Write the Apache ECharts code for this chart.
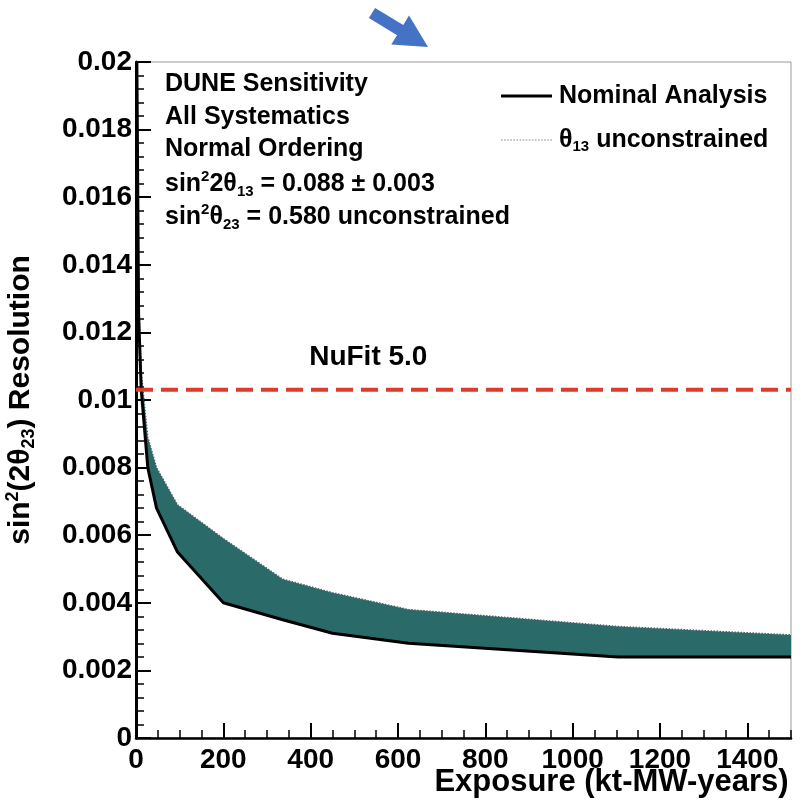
<!DOCTYPE html>
<html><head><meta charset="utf-8">
<script src="https://cdn.jsdelivr.net/npm/echarts@6/dist/echarts.min.js"></script>
<style>html,body{margin:0;padding:0;background:#fff}#c{width:805px;height:808px}</style>
</head><body><div id="c"></div>
<script>
// ---- data ----
const exposure      = [2, 6, 12, 27, 47, 95, 200, 336, 450, 624, 1104, 1500];
const nominal       = [0.0200, 0.0125, 0.0103, 0.0080, 0.0068, 0.0055, 0.0040, 0.0035, 0.0031, 0.0028, 0.0024, 0.0024];
const unconstrained = [0.0200, 0.0132, 0.0108, 0.0089, 0.0080, 0.0069, 0.0059, 0.0047, 0.0043, 0.0038, 0.0033, 0.00305];
const nufitValue = 0.0103;
const nufitLabelAt = [532, 0.01127];
const xTickLabels = ['0', '200', '400', '600', '800', '1000', '1200', '1400'];
const yTickLabels = ['0', '0.002', '0.004', '0.006', '0.008', '0.01', '0.012', '0.014', '0.016', '0.018', '0.02'];
const infoLines = [
  'DUNE Sensitivity',
  'All Systematics',
  'Normal Ordering',
  '{t|sin}{sup|2}{t|2θ}{sub|13}{t| = 0.088 ± 0.003}',
  '{t|sin}{sup|2}{t|θ}{sub|23}{t| = 0.580 unconstrained}'
];

const FONT = "'Liberation Sans', Arial, Helvetica, sans-serif";
const chart = echarts.init(document.getElementById('c'), null, {renderer: 'canvas'});

const richTxt = {
  t:   {fontFamily: FONT, fontWeight: 'bold', fontSize: 25, color: '#000', lineHeight: 30},
  sup: {fontFamily: FONT, fontWeight: 'bold', fontSize: 15, color: '#000', verticalAlign: 'top', lineHeight: 30},
  sub: {fontFamily: FONT, fontWeight: 'bold', fontSize: 15, color: '#000', verticalAlign: 'bottom', lineHeight: 30}
};

const graphics = infoLines.map((s, i) => ({
  type: 'text', left: 165, top: 72 + i * 32.5, z: 20,
  style: {text: s, font: 'bold 25px ' + FONT, fill: '#000', rich: richTxt}
}));
// blue arrow above the chart
graphics.push({
  type: 'polygon', z: 20,
  shape: {points: [[375.1,7.9],[403.3,25.0],[409.0,15.6],[428,47],[391.2,44.6],[397.1,35.2],[368.9,18.1]]},
  style: {fill: '#4472c4'}
});

// dotted legend sample
let dotPath = 'path://';
for (let i = 0; i < 17; i++) dotPath += 'M' + (i * 3) + ',0h1.6v1h-1.6z';

const axisFont = {fontFamily: FONT, fontWeight: 'bold', fontSize: 28, color: '#000'};

chart.setOption({
  animation: false,
  backgroundColor: '#fff',
  grid: {left: 136, right: 14, top: 62, bottom: 70, show: true, borderColor: '#999', borderWidth: 1,
         containLabel: false, outerBoundsMode: 'none'},
  legend: {
    data: [
      {name: 'Nominal Analysis', icon: 'rect', itemStyle: {color: '#000'}},
      {name: 'θ13 unconstrained', icon: dotPath, itemStyle: {color: '#8a8a8a'}}
    ],
    orient: 'vertical', left: 496, top: 77, itemWidth: 51, itemHeight: 3, itemGap: 16,
    textStyle: {fontFamily: FONT, fontWeight: 'bold', fontSize: 25, color: '#000', padding: [0,0,0,2], lineHeight: 28,
      rich: {t: {fontFamily: FONT, fontWeight: 'bold', fontSize: 25, color: '#000', lineHeight: 28},
             s: {fontFamily: FONT, fontWeight: 'bold', fontSize: 15, color: '#000', verticalAlign: 'bottom', lineHeight: 28}}},
    formatter: n => n === 'θ13 unconstrained' ? '{t|θ}{s|13}{t| unconstrained}' : n
  },
  xAxis: [{
    type: 'value', min: 0, max: 1500, interval: 200, position: 'bottom',
    axisLine: {show: true, onZero: false, lineStyle: {color: '#000', width: 2.5}},
    axisTick: {show: true, inside: true, length: 15, lineStyle: {color: '#000', width: 2}},
    axisLabel: Object.assign({margin: 8, showMaxLabel: false,
      formatter: v => { const s = String(Math.round(v)); return xTickLabels.includes(s) ? s : ''; }}, axisFont),
    splitLine: {show: false},
    name: 'Exposure (kt-MW-years)', nameLocation: 'middle', nameGap: 29, nameMoveOverlap: false,
    nameTextStyle: {fontFamily: FONT, fontWeight: 'bold', fontSize: 31, color: '#000', padding: [0, 0, 0, 296]}
  }, {
    type: 'value', min: 0, max: 1500, interval: 50, position: 'bottom',
    axisLine: {show: false}, axisLabel: {show: false}, splitLine: {show: false},
    axisTick: {show: true, inside: true, length: 8, lineStyle: {color: '#000', width: 1.5}}
  }],
  yAxis: {
    type: 'value', min: 0, max: 0.02, interval: 0.002,
    axisLine: {show: true, onZero: false, lineStyle: {color: '#000', width: 3}},
    axisTick: {show: true, inside: true, length: 15, lineStyle: {color: '#000', width: 2}},
    minorTick: {show: true, splitNumber: 5, length: 8, lineStyle: {color: '#000', width: 1.5}},
    axisLabel: Object.assign({margin: 4,
      formatter: v => { const s = String(+v.toFixed(4)); return yTickLabels.includes(s) ? s : ''; }}, axisFont),
    splitLine: {show: false},
    name: '{n|sin}{sup|2}{n|(2θ}{sub|23}{n|) Resolution}', nameLocation: 'middle', nameRotate: 90, nameGap: 98,
    nameMoveOverlap: false,
    nameTextStyle: {rich: {
      n:   {fontFamily: FONT, fontWeight: 'bold', fontSize: 30, color: '#000', lineHeight: 34},
      sup: {fontFamily: FONT, fontWeight: 'bold', fontSize: 18, color: '#000', verticalAlign: 'top', lineHeight: 34},
      sub: {fontFamily: FONT, fontWeight: 'bold', fontSize: 18, color: '#000', verticalAlign: 'bottom', lineHeight: 34}
    }}
  },
  series: [{
    type: 'custom', name: 'band', silent: true, z: 2, clip: true,
    data: [[exposure[0], nominal[0]]],
    renderItem: (params, api) => {
      const pts = [];
      exposure.forEach((x, i) => pts.push(api.coord([x, nominal[i]])));
      for (let i = exposure.length - 1; i >= 0; i--) pts.push(api.coord([exposure[i], unconstrained[i]]));
      return {type: 'polygon', shape: {points: pts}, style: {fill: '#2a6a68', stroke: null}};
    }
  }, {
    type: 'line', name: 'θ13 unconstrained', z: 4, symbol: 'none', silent: true,
    data: exposure.map((x, i) => [x, unconstrained[i]]),
    lineStyle: {color: '#4a6464', width: 1.5, type: 'dotted'}, itemStyle: {color: '#4a6464'}
  }, {
    type: 'line', name: 'Nominal Analysis', z: 5, symbol: 'none', silent: true,
    data: exposure.map((x, i) => [x, nominal[i]]),
    lineStyle: {color: '#000', width: 3}, itemStyle: {color: '#000'}
  }, {
    type: 'line', name: 'NuFit 5.0', z: 6, symbol: 'none', silent: true,
    data: [[0, nufitValue], [1500, nufitValue]],
    lineStyle: {color: '#e03a2c', width: 4, type: [17, 8]},
    markPoint: {
      symbol: 'circle', symbolSize: 0, silent: true,
      data: [{coord: nufitLabelAt}],
      label: {show: true, position: 'inside', formatter: 'NuFit 5.0', fontFamily: FONT, fontWeight: 'bold', fontSize: 28, color: '#000'}
    }
  }],
  graphic: graphics
});
</script></body></html>
